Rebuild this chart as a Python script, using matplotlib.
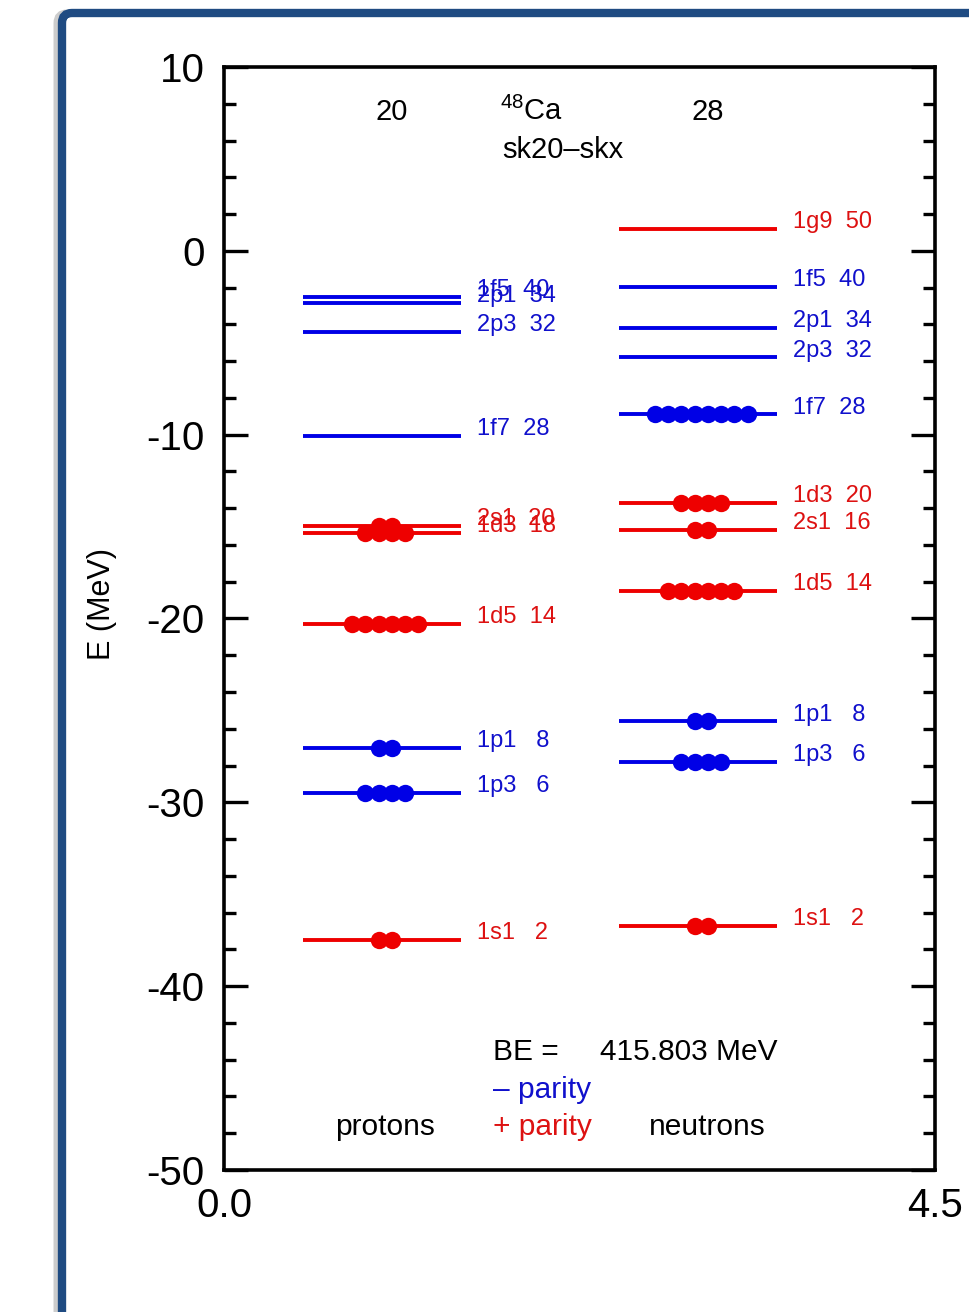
import matplotlib
matplotlib.use("Agg")
import matplotlib.pyplot as plt
from matplotlib.patches import FancyBboxPatch
from matplotlib.ticker import MultipleLocator
import numpy as np

plt.rcParams['font.family'] = ['Liberation Sans', 'DejaVu Sans']
plt.rcParams['mathtext.fontset'] = 'custom'
plt.rcParams['mathtext.rm'] = 'Liberation Sans'
plt.rcParams['axes.unicode_minus'] = False

# ---------------- data ----------------
proton_orbits = ['1s1', '1p3', '1p1', '1d5', '1d3', '2s1', '1f7', '2p3', '2p1', '1f5']
proton_E      = [-37.5, -29.5, -27.05, -20.3, -15.34, -14.97, -10.08, -4.42, -2.84, -2.50]
proton_occ    = [2, 4, 2, 6, 4, 2, 0, 0, 0, 0]
proton_cum    = [2, 6, 8, 14, 18, 20, 28, 32, 34, 40]

neutron_orbits = ['1s1', '1p3', '1p1', '1d5', '2s1', '1d3', '1f7', '2p3', '2p1', '1f5', '1g9']
neutron_E      = [-36.7, -27.8, -25.6, -18.5, -15.2, -13.7, -8.9, -5.8, -4.2, -1.95, 1.19]
neutron_occ    = [2, 4, 2, 6, 2, 4, 8, 0, 0, 0, 0]
neutron_cum    = [2, 6, 8, 14, 16, 20, 28, 32, 34, 40, 50]

y_ticks = [10, 0, -10, -20, -30, -40, -50]
x_ticks = [0.0, 4.5]
x_ticklabels = ['0.0', '4.5']

BLUE = '#0000e6'
RED = '#ee0000'
BLUE_T = '#1010cc'
RED_T = '#dd1111'

def parity_color(orb, text=False):
    l = orb[1]
    neg = l in ('p', 'f', 'h')
    if text:
        return BLUE_T if neg else RED_T
    return BLUE if neg else RED

fig = plt.figure(figsize=(9.70, 13.12), dpi=100)

# frame (rounded blue border with a faint shadow)
shadow = FancyBboxPatch((0.57, -1.0), 11.0, 13.99, boxstyle="round,pad=0,rounding_size=0.10",
                        transform=fig.dpi_scale_trans, facecolor='none',
                        edgecolor='#cccccc', linewidth=5.0, zorder=0)
frame = FancyBboxPatch((0.62, -1.0), 11.0, 13.99, boxstyle="round,pad=0,rounding_size=0.10",
                       transform=fig.dpi_scale_trans, facecolor='none',
                       edgecolor='#1f4b82', linewidth=6.0, zorder=1)
fig.patches.append(shadow)
fig.patches.append(frame)

ax = fig.add_axes([224/970, 1 - 1170/1312, (935-224)/970, (1170-67)/1312])
ax.set_xlim(0, 4.5)
ax.set_ylim(-50, 10)

for s in ax.spines.values():
    s.set_linewidth(2.6)

ax.set_yticks(y_ticks)
ax.set_yticklabels([str(v) for v in y_ticks])
ax.yaxis.set_minor_locator(MultipleLocator(2))
ax.tick_params(axis='y', which='both', direction='in', left=True, right=True,
               labelsize=29, pad=14, width=2.4)
ax.tick_params(axis='y', which='major', length=17)
ax.tick_params(axis='y', which='minor', length=8.5)
ax.set_xticks(x_ticks)
ax.set_xticklabels(x_ticklabels)
ax.tick_params(axis='x', which='both', length=0, labelsize=29, pad=12)

ax.set_ylabel('E (MeV)', fontsize=22)
ax.yaxis.set_label_coords(-0.150, 0.513)

dot_step = 0.084

def draw_side(orbs, Es, occs, cums, x0, x1, xlab):
    xc = 0.5 * (x0 + x1) + 0.02
    for orb, E, occ, cum in zip(orbs, Es, occs, cums):
        c = parity_color(orb)
        ax.hlines(E, x0, x1, colors=c, linewidth=2.8, zorder=3)
        if occ > 0:
            xs = xc + (np.arange(occ) - (occ - 1) / 2) * dot_step
            ax.plot(xs, [E] * occ, 'o', color=c, markersize=12.5,
                    markeredgewidth=0, zorder=4)
        ax.text(xlab, E + 0.05, f"{orb}  {cum:2d}", color=parity_color(orb, True),
                fontsize=17, va='baseline', ha='left', zorder=5)

draw_side(proton_orbits, proton_E, proton_occ, proton_cum, 0.5, 1.5, 1.60)
draw_side(neutron_orbits, neutron_E, neutron_occ, neutron_cum, 2.5, 3.5, 3.60)

# header texts
ax.text(1.06, 7.12, '20', fontsize=21, ha='center', va='baseline')
ax.text(3.06, 7.12, '28', fontsize=21, ha='center', va='baseline')
ax.text(1.75, 7.12, r'$\mathregular{^{48}Ca}$', fontsize=21, ha='left', va='baseline')
ax.text(1.76, 5.05, 'sk20–skx', fontsize=21, ha='left', va='baseline')

# footer texts
ax.text(1.70, -44.02, 'BE =', fontsize=21.5, ha='left', va='baseline')
ax.text(2.38, -44.02, '415.803 MeV', fontsize=21.5, ha='left', va='baseline')
ax.text(1.70, -46.1, '– parity', fontsize=21.5, ha='left', va='baseline', color=BLUE_T)
ax.text(1.70, -48.1, '+ parity', fontsize=21.5, ha='left', va='baseline', color=RED_T)
ax.text(1.02, -48.1, 'protons', fontsize=21.5, ha='center', va='baseline')
ax.text(3.06, -48.1, 'neutrons', fontsize=21.5, ha='center', va='baseline')

fig.savefig('out.png', dpi=100)
